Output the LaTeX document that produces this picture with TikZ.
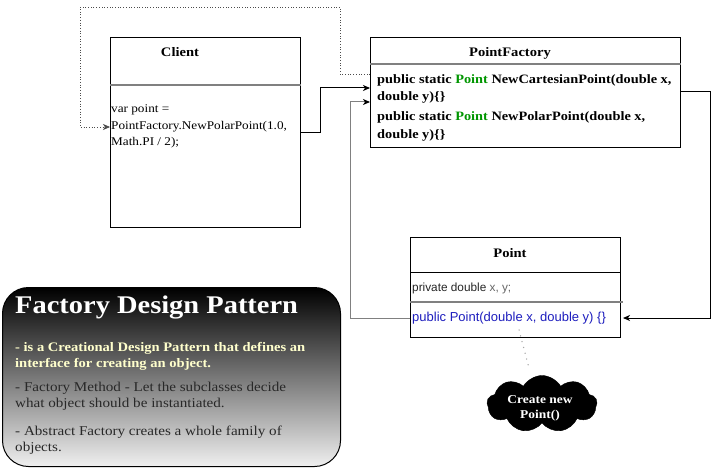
\documentclass[tikz,border=0pt]{standalone}
\usepackage{fontspec}
\setmainfont{Liberation Serif}[FakeStretch=1.12]
\newfontfamily\uisans{Liberation Sans}
\usetikzlibrary{arrows.meta,shapes.symbols}
\definecolor{methodgreen}{RGB}{0,150,0}
\definecolor{ctorblue}{RGB}{30,30,190}
\definecolor{noteyellow}{RGB}{255,255,204}
\definecolor{divgray}{RGB}{128,128,128}
\definecolor{notetext}{RGB}{40,40,40}

\begin{document}
\begin{tikzpicture}[x=1pt,y=-1pt,
  classbox/.style={draw=black, line width=1pt, fill=white, inner sep=0pt, anchor=north west},
  divider/.style={draw=divgray, line width=1.5pt},
  plaindiv/.style={draw=black, line width=1pt},
  classname/.style={inner sep=0pt, anchor=base, font=\bfseries\fontsize{13}{15}\selectfont},
  code/.style={inner sep=0pt, anchor=base west, font=\fontsize{11.8}{14}\selectfont},
  method/.style={inner sep=0pt, anchor=base west, font=\bfseries\fontsize{12.8}{15}\selectfont},
  field/.style={inner sep=0pt, anchor=base west, font=\uisans\fontsize{11.8}{14}\selectfont},
  ctor/.style={inner sep=0pt, anchor=base west, text=ctorblue, font=\uisans\fontsize{13}{15}\selectfont},
  tip/.style={-{Stealth[length=7pt,width=6pt,inset=2pt]}},
  link/.style={tip, draw=black, line width=1pt},
  greylink/.style={-{Stealth[length=7pt,width=6pt,inset=2pt,color=black]}, draw=divgray, line width=1pt},
  dotlink/.style={tip, draw=black!70, line width=0.7pt, dotted},
  notetitle/.style={inner sep=0pt, anchor=base west, text=white, font=\bfseries\fontsize{25.4}{28}\selectfont},
  notebold/.style={inner sep=0pt, anchor=base west, text=noteyellow, font=\bfseries\fontsize{13}{15}\selectfont},
  noteplain/.style={inner sep=0pt, anchor=base west, text=notetext, font=\fontsize{13.5}{15}\selectfont},
  cloudtext/.style={inner sep=0pt, anchor=base, text=white, font=\bfseries\fontsize{12}{13}\selectfont},
]
\useasboundingbox (0,0) rectangle (719,468);

% ---- class boxes ----
\node[classbox, minimum width=190pt, minimum height=190pt] (client) at (110,37) {};
\node[classbox, minimum width=310pt, minimum height=110pt] (pf) at (370,37) {};
\node[classbox, minimum width=210pt, minimum height=100pt] (pt) at (410,237) {};

% compartment dividers
\draw[divider] (client.west |- 0,85) -- (client.east |- 0,85);
\draw[divider] (pf.west |- 0,64) -- (pf.east |- 0,64);
\draw[plaindiv] (pt.west |- 0,272) -- (pt.east |- 0,272);
\draw[divider, line width=1.2pt] (pt.west |- 0,302) -- ([xshift=2pt]pt.east |- 0,302);

% class names
\node[classname] (clientname) at (180,57) {Client};
\node[classname] (pfname) at (510,57) {PointFactory};
\node[classname] (ptname) at (510,257) {Point};

% client body
\node[code] (c1) at (111,112) {var point =};
\node[code] (c2) at (111,129) {PointFactory.NewPolarPoint(1.0,};
\node[code] (c3) at (111,145) {Math.PI / 2);};

% factory methods
\node[method] (m1) at (377,84) {public static \textcolor{methodgreen}{Point} NewCartesianPoint(double x,};
\node[method] (m2) at (377,100) {double y)\{\}};
\node[method] (m3) at (377,121) {public static \textcolor{methodgreen}{Point} NewPolarPoint(double x,};
\node[method] (m4) at (377,138) {double y)\{\}};

% point members
\node[field, text=black!85] (f1) at (412,291) {private double \textcolor{black!60}{x, y;}};
\node[ctor] (f2) at (412,321) {public Point(double x, double y) \{\}};

% ---- connectors ----
\coordinate (dotout) at (pf.west |- 0,74);
\coordinate (dotin) at (client.west |- 0,127);
\draw[dotlink] (dotout) -- (340,74) -- (340,7) -- (80,7) -- (80,127) -- (dotin);

\coordinate (callout) at (client.east |- 0,132);
\coordinate (callin) at (pf.west |- 0,88);
\draw[link] (callout) -- (320,132) -- (320,88) -- (callin);

\coordinate (ctorout) at (pt.west |- 0,318);
\coordinate (ctorin) at (pf.west |- 0,102);
\draw[greylink] (ctorout) -- (350,318) -- (350,102) -- (ctorin);

\coordinate (makeout) at (pf.east |- 0,92);
\coordinate (makein) at ([xshift=2pt]pt.east |- 0,318);
\draw[link] (makeout) -- (710,92) -- (710,318) -- (makein);

% ---- note cloud ----
\node[cloud, cloud puffs=9, cloud puff arc=120, aspect=1.9, draw=black, fill=black,
      minimum width=110pt, minimum height=57pt, inner sep=0pt] (cloud) at (542,404) {};
\node[cloudtext] (ct1) at (540,403) {Create new};
\node[cloudtext] (ct2) at (540,418) {Point()};
\coordinate (cloudtip) at (529,368);
\draw[draw=black!35, line width=1.5pt, line cap=round, dash pattern=on 0pt off 6pt] (519,330) -- (cloudtip);

% ---- summary panel ----
\node[draw=black, line width=1pt, rounded corners=26pt, top color=black, bottom color=black!6,
      minimum width=338pt, minimum height=179pt, anchor=north west, inner sep=0pt] (note) at (2,287) {};
\node[notetitle] (nt) at (15,313) {Factory Design Pattern};
\node[notebold] (n1) at (15,351) {- is a Creational Design Pattern that defines an};
\node[notebold] (n2) at (15,367) {interface for creating an object.};
\node[noteplain] (n3) at (15,391) {- Factory Method - Let the subclasses decide};
\node[noteplain] (n4) at (15,407) {what object should be instantiated.};
\node[noteplain] (n5) at (15,435) {- Abstract Factory creates a whole family of};
\node[noteplain] (n6) at (15,451) {objects.};
\end{tikzpicture}
\end{document}
